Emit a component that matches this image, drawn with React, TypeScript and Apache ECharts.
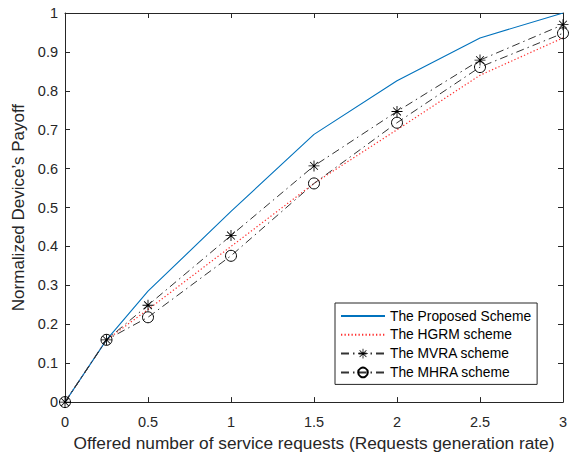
import React, { useEffect, useRef } from "react";
import * as echarts from "echarts";

const xValues = [0, 0.25, 0.5, 1, 1.5, 2, 2.5, 3];
const proposed = [0, 0.16, 0.285, 0.49, 0.688, 0.826, 0.936, 1.0];
const hgrm = [0, 0.16, 0.238, 0.4, 0.562, 0.7, 0.84, 0.936];
const mvra = [0, 0.16, 0.249, 0.428, 0.607, 0.747, 0.879, 0.97];
const mhra = [0, 0.16, 0.218, 0.376, 0.562, 0.718, 0.861, 0.948];
const seriesNames = ["The Proposed Scheme", "The HGRM scheme", "The MVRA scheme", "The MHRA scheme"];
const xTitle = "Offered number of service requests (Requests generation rate)";
const yTitle = "Normalized Device\u2019s Payoff";

const FONT = "'Liberation Sans', Arial, Helvetica, sans-serif";
const AX = "#262626";

const starPath =
  "path://M0 9.2H20V10.8H0Z M9.2 0H10.8V20H9.2Z M3.5 2.36L17.63 16.5L16.5 17.63L2.36 3.5Z M17.63 3.5L3.5 17.63L2.36 16.5L16.5 2.36Z";

const pair = (ys: number[]) => xValues.map((x, i) => [x, ys[i]]);

export default function App() {
  const ref = useRef<HTMLDivElement>(null);
  useEffect(() => {
    if (!ref.current) return;
    const chart = echarts.init(ref.current, undefined, { renderer: "svg" });
    const axisCommon = {
      axisLine: { show: true, onZero: false, lineStyle: { color: AX, width: 1 } },
      axisTick: { show: true, inside: true, length: 5, lineStyle: { color: AX, width: 1 } },
      splitLine: { show: false },
    };
    const dashDot = [8, 4, 1.5, 4];
    chart.setOption({
      animation: false,
      backgroundColor: "#fff",
      grid: { left: 65, right: 13, top: 13, bottom: 49, containLabel: false },
      legend: {
        orient: "vertical",
        left: 335,
        top: 303,
        padding: [6, 6, 5, 5],
        itemWidth: 44,
        itemHeight: 12,
        itemGap: 4.8,
        borderColor: AX,
        borderWidth: 1,
        backgroundColor: "#fff",
        borderRadius: 0,
        textStyle: { fontFamily: FONT, fontSize: 13.8, color: "#000", lineHeight: 14, padding: [0, 0, 0, 0] },
        data: seriesNames,
      },
      xAxis: [
        {
          type: "value",
          min: 0,
          max: 3,
          interval: 0.5,
          position: "bottom",
          name: xTitle,
          nameLocation: "middle",
          nameGap: 25,
          nameTextStyle: { fontFamily: FONT, fontSize: 17.3, color: AX },
          axisLabel: { fontFamily: FONT, fontSize: 14.5, color: AX, margin: 12 },
          ...axisCommon,
        },
        {
          type: "value",
          min: 0,
          max: 3,
          interval: 0.5,
          position: "top",
          axisLabel: { show: false },
          ...axisCommon,
        },
      ],
      yAxis: [
        {
          type: "value",
          min: 0,
          max: 1,
          interval: 0.1,
          position: "left",
          name: yTitle,
          nameLocation: "middle",
          nameGap: 35,
          nameTextStyle: { fontFamily: FONT, fontSize: 17, color: AX },
          axisLabel: { fontFamily: FONT, fontSize: 14.5, color: AX, margin: 7 },
          ...axisCommon,
        },
        {
          type: "value",
          min: 0,
          max: 1,
          interval: 0.1,
          position: "right",
          axisLabel: { show: false },
          ...axisCommon,
        },
      ],
      series: [
        {
          name: seriesNames[0],
          type: "line",
          data: pair(proposed),
          symbol: "circle",
          showSymbol: false,
          lineStyle: { color: "#0072BD", width: 1.1, type: "solid" },
          itemStyle: { color: "rgba(0,0,0,0)", borderWidth: 0 },
          emphasis: { disabled: true },
          z: 4,
        },
        {
          name: seriesNames[1],
          type: "line",
          data: pair(hgrm),
          symbol: "circle",
          showSymbol: false,
          lineStyle: { color: "#FF3030", width: 1.2, type: [1.3, 2.2] },
          itemStyle: { color: "rgba(0,0,0,0)", borderWidth: 0 },
          emphasis: { disabled: true },
          z: 3,
        },
        {
          name: seriesNames[2],
          type: "line",
          data: pair(mvra),
          symbol: starPath,
          symbolSize: 11,
          showSymbol: true,
          lineStyle: { color: "#333", width: 1, type: dashDot },
          itemStyle: { color: "#000", borderWidth: 0 },
          z: 5,
        },
        {
          name: seriesNames[3],
          type: "line",
          data: pair(mhra),
          symbol: "circle",
          symbolSize: 11,
          showSymbol: true,
          lineStyle: { color: "#333", width: 1, type: dashDot },
          itemStyle: { color: "rgba(0,0,0,0)", borderColor: "#000", borderWidth: 1 },
          z: 5,
        },
      ],
    });
    return () => chart.dispose();
  }, []);
  return <div ref={ref} style={{ width: 576, height: 456, position: "absolute", left: 0, top: 0 }} />;
}
